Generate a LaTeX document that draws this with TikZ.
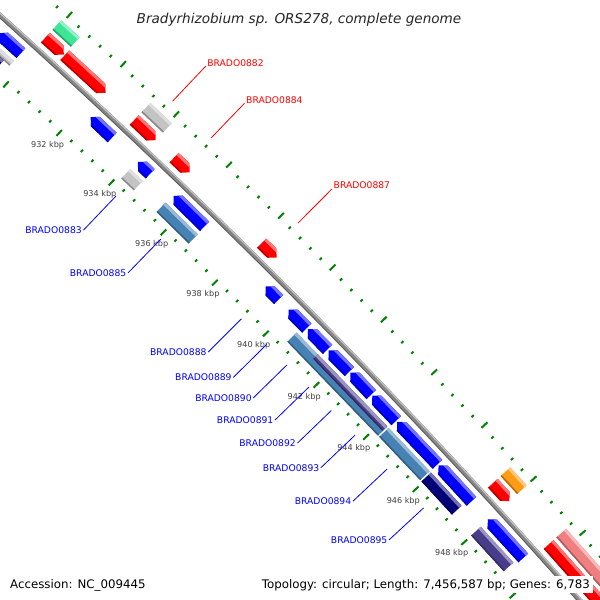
\documentclass[tikz,border=0pt]{standalone}
\usepackage{fontspec}
\setmainfont{DejaVu Sans}

\definecolor{cdsred}{RGB}{255,0,0}
\definecolor{cdsblue}{RGB}{0,0,255}
\definecolor{cogsteel}{RGB}{70,130,180}
\definecolor{cogslate}{RGB}{72,61,139}
\definecolor{cognavy}{RGB}{0,0,120}
\definecolor{coggrey}{RGB}{195,195,195}
\definecolor{coggreen}{RGB}{60,230,150}
\definecolor{cogorange}{RGB}{255,155,20}
\definecolor{cogpink}{RGB}{240,128,128}
\definecolor{backbonegrey}{RGB}{135,135,135}
\definecolor{tickgreen}{RGB}{0,130,0}

% kbp -> angle on the (very large) map circle
\newcommand{\kang}[1]{47.04-0.2894*(#1-932)}

% feature: start, end (kbp), inner/outer offset from backbone, colour, head (0 none, 1 at end, 2 at start)
\newcommand{\feat}[6]{%
  \pgfmathsetmacro{\fa}{\kang{#1}}%
  \pgfmathsetmacro{\fb}{\kang{#2}}%
  \pgfmathsetmacro{\fin}{7176+#3}%
  \pgfmathsetmacro{\fout}{7176+#4}%
  \pgfmathsetmacro{\fmid}{7176+(#3+#4)/2}%
  \pgfmathsetmacro{\fha}{\fa-(#4-#3)/2/7176*57.2958}%
  \pgfmathsetmacro{\fhb}{\fb+(#4-#3)/2/7176*57.2958}%
  \pgfmathsetmacro{\flo}{7176+#4-3}%
  \pgfmathsetmacro{\fhi}{7176+#4+1}%
  \pgfmathsetmacro{\fdk}{7176+#3+1.5}%
  \pgfmathsetmacro{\fdo}{7176+#3-1}%
  \pgfmathsetmacro{\fea}{\fa+0.1}%
  \pgfmathsetmacro{\feb}{\fb-0.1}%
  \ifcase#6\relax
    \def\fpath{(\fa:\fin pt) -- (\fb:\fin pt) -- (\fb:\fout pt) -- (\fa:\fout pt) -- cycle}%
  \or
    \def\fpath{(\fa:\fin pt) -- (\fhb:\fin pt) -- (\fb:\fmid pt) -- (\fhb:\fout pt) -- (\fa:\fout pt) -- cycle}%
  \or
    \def\fpath{(\fha:\fin pt) -- (\fa:\fmid pt) -- (\fha:\fout pt) -- (\fb:\fout pt) -- (\fb:\fin pt) -- cycle}%
  \fi
  \fill[#5] \fpath;
  \begin{scope}
    \clip \fpath;
    \fill[#5!55!white] (\fea:\flo pt) -- (\feb:\flo pt) -- (\feb:\fhi pt) -- (\fea:\fhi pt) -- cycle;
    \fill[#5!70!black] (\fea:\fdo pt) -- (\feb:\fdo pt) -- (\feb:\fdk pt) -- (\fea:\fdk pt) -- cycle;
  \end{scope}
}

\tikzset{
  tickline/.style={tickgreen, line width=2pt},
  fwdline/.style={cdsred, line width=0.8pt},
  revline/.style={cdsblue, line width=0.8pt},
  fwdlabel/.style={text=cdsred, font=\fontsize{9.2}{11}\selectfont, anchor=base west, inner sep=1.5pt},
  revlabel/.style={text=cdsblue, font=\fontsize{9.2}{11}\selectfont, anchor=east, inner sep=1.5pt},
  kbplabel/.style={text=black!75, font=\fontsize{8.1}{9}\selectfont, inner sep=0pt},
  infotext/.style={font=\fontsize{11.8}{13}\selectfont, fill=white, inner sep=3pt}
}

\begin{document}
\begin{tikzpicture}[x=1pt, y=1pt]
  \path[use as bounding box] (0,0) rectangle (600,-600);
  \clip (0,0) rectangle (600,-600);
  \fill[white] (0,0) rectangle (600,-600);

  \begin{scope}[shift={(-4799pt,-5350pt)}]
    % tick rings, every 0.4 kbp, labelled every 2 kbp
    \foreach \i in {-9,...,49}{
      \pgfmathsetmacro{\tp}{47.04-0.2894*0.4*\i}
      \pgfmathtruncatemacro{\ismaj}{mod(\i+100,5)==0}
      \ifnum\ismaj=1
        \draw[tickline] (\tp:7219pt) -- (\tp:7227pt);
        \draw[tickline] (\tp:7133pt) -- (\tp:7125pt);
        \ifnum\i>-1 \ifnum\i<41
          \pgfmathtruncatemacro{\kb}{932+2*\i/5}
          \node[kbplabel] (kbp\kb) at (\tp:7112pt) {\kb\ kbp};
        \fi\fi
      \else
        \draw[tickline] (\tp:7219pt) -- (\tp:7222pt);
        \draw[tickline] (\tp:7133pt) -- (\tp:7130pt);
      \fi
    }

    % backbone
    \draw[backbonegrey, line width=5pt] (48.3:7176pt) arc[start angle=48.3, end angle=41.2, radius=7176pt];
    \draw[backbonegrey!50!white, line width=1.2pt] (48.3:7177.6pt) arc[start angle=48.3, end angle=41.2, radius=7177.6pt];
    \draw[backbonegrey!70!black, line width=0.8pt] (48.3:7174pt) arc[start angle=48.3, end angle=41.2, radius=7174pt];

    % forward strand CDS
    \feat{929.93}{930.62}{7.5}{20.5}{cdsred}{1}
    \feat{930.65}{932.18}{7.5}{20.5}{cdsred}{1}
    \feat{933.27}{934.08}{7.5}{20.5}{cdsred}{1}
    \feat{934.78}{935.37}{7.5}{20.5}{cdsred}{1}
    \feat{938.15}{938.72}{7.5}{20.5}{cdsred}{1}
    \feat{947.33}{948.0}{7.5}{20.5}{cdsred}{1}
    \feat{949.61}{952.8}{7.5}{20.5}{cdsred}{0}
    % forward strand COG
    \feat{929.93}{930.62}{24.5}{37.5}{coggreen}{0}
    \feat{933.27}{934.08}{24.5}{37.5}{coggrey}{0}
    \feat{947.33}{948.0}{24.5}{37.5}{cogorange}{0}
    \feat{949.61}{952.8}{24.5}{37.5}{cogpink}{0}

    % reverse strand CDS
    \feat{928.9}{929.72}{-20.5}{-7.5}{cdsblue}{2}
    \feat{932.34}{933.16}{-20.5}{-7.5}{cdsblue}{2}
    \feat{934.14}{934.61}{-20.5}{-7.5}{cdsblue}{2}
    \feat{935.5}{936.7}{-20.5}{-7.5}{cdsblue}{2}
    \feat{939.07}{939.58}{-20.5}{-7.5}{cdsblue}{2}
    \feat{939.97}{940.69}{-20.5}{-7.5}{cdsblue}{2}
    \feat{940.73}{941.51}{-20.5}{-7.5}{cdsblue}{2}
    \feat{941.55}{942.37}{-20.5}{-7.5}{cdsblue}{2}
    \feat{942.41}{943.25}{-20.5}{-7.5}{cdsblue}{2}
    \feat{943.29}{944.25}{-20.5}{-7.5}{cdsblue}{2}
    \feat{944.29}{945.91}{-20.5}{-7.5}{cdsblue}{2}
    \feat{945.95}{947.3}{-20.5}{-7.5}{cdsblue}{2}
    \feat{947.97}{949.42}{-20.5}{-7.5}{cdsblue}{2}
    % reverse strand COG
    \feat{928.2}{929.72}{-31}{-24.5}{coggrey}{0}
    \feat{928.2}{929.5}{-37.5}{-31}{cognavy}{0}
    \feat{934.12}{934.6}{-37.5}{-24.5}{coggrey}{0}
    \feat{935.47}{936.72}{-37.5}{-24.5}{cogsteel}{0}
    \feat{940.58}{944.2}{-37.5}{-24.5}{cogsteel}{0}
    \feat{941.42}{944.18}{-31}{-24.5}{cogslate}{0}
    \feat{944.25}{945.9}{-37.5}{-24.5}{cogsteel}{0}
    \feat{945.95}{947.2}{-37.5}{-24.5}{cognavy}{0}
    \feat{947.99}{949.33}{-37.5}{-24.5}{cogslate}{0}

    % gene labels, forward strand
    \foreach \nm/\pos in {0882/933.68, 0884/935.14, 0887/938.47}{
      \coordinate (t\nm) at ({\kang{\pos}}:7230pt);
      \node[fwdlabel] (l\nm) at ({\kang{\pos}}:7278pt) {BRADO\nm};
      \draw[fwdline] (t\nm) -- (l\nm.base west);
    }
    % gene labels, reverse strand
    \foreach \nm/\pos in {0883/934.35, 0885/936.08, 0888/939.23, 0889/940.23, 0890/941.03,
                          0891/941.90, 0892/942.80, 0893/943.75, 0894/945.05, 0895/946.53}{
      \coordinate (t\nm) at ({\kang{\pos}}:7122pt);
      \node[revlabel] (l\nm) at ({\kang{\pos}}:7075pt) {BRADO\nm};
      \draw[revline] (t\nm) -- (l\nm.east);
    }
  \end{scope}

  \node[font=\fontsize{13.6}{15}\selectfont\itshape, text=black!85, anchor=base] (title) at (299,-23)
    {Bradyrhizobium sp. ORS278, complete genome};
  \node[infotext, anchor=base west] (acc) at (7,-588) {Accession: NC\_009445};
  \node[infotext, anchor=base east] (topo) at (593,-588) {Topology: circular; Length: 7,456,587 bp; Genes: 6,783};
\end{tikzpicture}
\end{document}
